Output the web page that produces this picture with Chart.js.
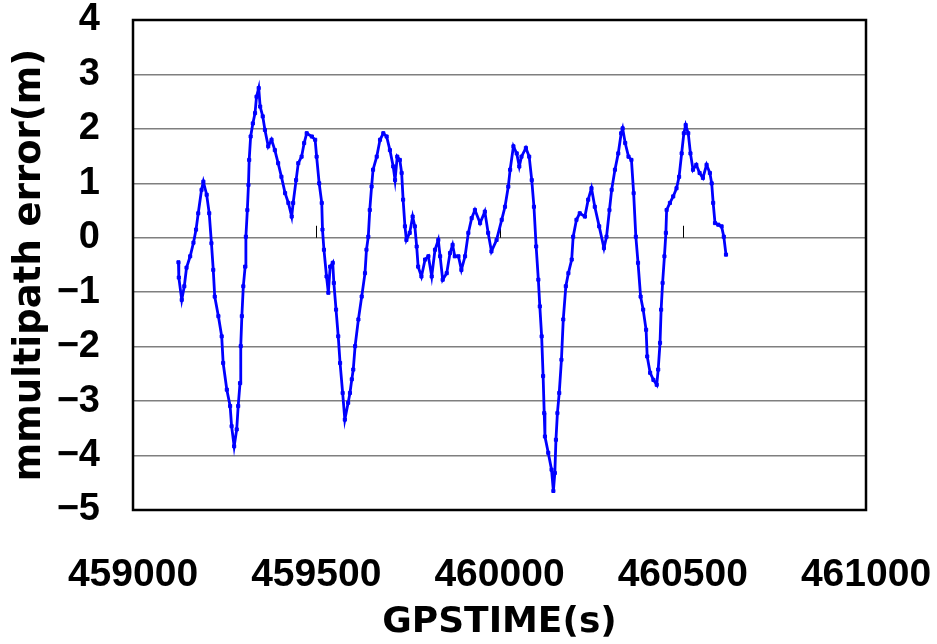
<!DOCTYPE html>
<html lang="en">
<head>
    <meta charset="UTF-8">
    <title>multipath error</title>
    <style>
        body { margin: 0; background: #fff; }
        #wrap { width: 937px; height: 644px; }
    </style>
    <script src="https://cdn.jsdelivr.net/npm/chart.js"></script>
</head>
<body>
<div id="wrap"><canvas id="grafico" width="937" height="644"></canvas></div>
<script>
// GPS time (s) and multipath error (m)
const gpsTime = [
    459124, 459125, 459133, 459140, 459146, 459156, 459165, 459172, 459178, 459187,
    459192, 459201, 459208, 459214, 459219, 459223, 459233, 459242, 459246, 459256,
    459265, 459269, 459276, 459283, 459287, 459292, 459294, 459297, 459301, 459306,
    459308, 459312, 459315, 459317, 459321, 459327, 459333, 459337, 459343, 459347,
    459354, 459360, 459369, 459378, 459387, 459396, 459405, 459415, 459424, 459433,
    459437, 459445, 459451, 459460, 459467, 459474, 459488, 459497, 459501, 459508,
    459515, 459517, 459521, 459528, 459533, 459538, 459545, 459548, 459554, 459560,
    459565, 459572, 459578, 459587, 459592, 459597, 459601, 459606, 459615, 459624,
    459633, 459637, 459642, 459646, 459651, 459655, 459665, 459674, 459683, 459692,
    459701, 459710, 459715, 459721, 459728, 459733, 459737, 459742, 459746, 459755,
    459763, 459769, 459774, 459778, 459787, 459797, 459806, 459815, 459824, 459833,
    459838, 459845, 459856, 459865, 459872, 459878, 459888, 459896, 459906, 459915,
    459924, 459933, 459947, 459960, 459969, 459978, 459992, 460006, 460015, 460024,
    460029, 460038, 460047, 460054, 460060, 460072, 460081, 460088, 460094, 460100,
    460106, 460110, 460115, 460119, 460122, 460124, 460133, 460142, 460147, 460151,
    460154, 460158, 460163, 460169, 460174, 460181, 460188, 460197, 460201, 460210,
    460219, 460233, 460242, 460251, 460260, 460272, 460285, 460292, 460300, 460306,
    460315, 460324, 460332, 460336, 460343, 460352, 460360, 460366, 460372, 460378,
    460385, 460392, 460400, 460403, 460411, 460420, 460429, 460433, 460438, 460441,
    460445, 460450, 460454, 460456, 460465, 460474, 460483, 460490, 460497, 460503,
    460508, 460515, 460521, 460528, 460537, 460546, 460555, 460565, 460574, 460579,
    460583, 460588, 460597, 460606, 460612, 460618
];
const mpError = [
    -0.45, -0.73, -1.14, -0.89, -0.55, -0.34, -0.09, 0.15, 0.45, 0.88,
    1.03, 0.79, 0.45, -0.10, -0.59, -1.08, -1.44, -1.81, -2.30, -2.79,
    -3.09, -3.46, -3.83, -3.52, -3.09, -2.67, -1.99, -1.44, -0.89, -0.53,
    0.02, 0.51, 0.97, 1.43, 1.86, 2.10, 2.29, 2.59, 2.75, 2.41,
    2.23, 1.98, 1.68, 1.80, 1.61, 1.37, 1.12, 0.82, 0.64, 0.39,
    0.64, 1.06, 1.37, 1.49, 1.74, 1.92, 1.86, 1.80, 1.49, 1.00,
    0.64, 0.15, -0.22, -0.71, -1.01, -0.53, -0.46, -0.83, -1.32, -1.81,
    -2.30, -2.85, -3.34, -3.03, -2.85, -2.60, -2.42, -1.99, -1.50, -1.08,
    -0.65, -0.22, 0.02, 0.51, 0.94, 1.25, 1.49, 1.80, 1.92, 1.86,
    1.61, 1.31, 1.06, 1.49, 1.43, 1.19, 0.70, 0.21, -0.04, 0.09,
    0.39, 0.21, -0.16, -0.53, -0.71, -0.40, -0.34, -0.71, -0.22, -0.04,
    -0.34, -0.77, -0.65, -0.28, -0.13, -0.34, -0.34, -0.59, -0.34, 0.09,
    0.36, 0.51, 0.27, 0.48, 0.09, -0.25, -0.04, 0.33, 0.57, 0.94,
    1.25, 1.68, 1.55, 1.31, 1.49, 1.65, 1.49, 1.06, 0.57, -0.16,
    -0.77, -1.26, -1.81, -2.54, -3.22, -3.65, -3.95, -4.26, -4.65, -4.32,
    -3.71, -3.22, -2.85, -2.24, -1.50, -0.89, -0.65, -0.40, 0.02, 0.33,
    0.45, 0.39, 0.70, 0.91, 0.57, 0.21, -0.19, 0.02, 0.51, 0.88,
    1.25, 1.55, 1.92, 2.01, 1.74, 1.49, 1.43, 0.82, 0.02, -0.46,
    -1.08, -1.32, -1.69, -2.18, -2.48, -2.61, -2.70, -2.42, -1.93, -1.32,
    -0.83, -0.34, 0.09, 0.51, 0.64, 0.76, 0.91, 1.12, 1.55, 1.92,
    2.07, 1.92, 1.55, 1.25, 1.34, 1.19, 1.10, 1.34, 1.19, 1.00,
    0.64, 0.27, 0.24, 0.21, 0.02, -0.31
];
// axis ticks
const xTicks = [459000, 459500, 460000, 460500, 461000];
const yTicks = [-5, -4, -3, -2, -1, 0, 1, 2, 3, 4];

const puntos = gpsTime.map((t, i) => ({ x: t, y: mpError[i] }));

// caja negra alrededor del area + marcas pequeñas sobre y=0
const marcoPlugin = {
    id: 'marco',
    beforeDatasetsDraw(chart) {
        const { ctx, scales } = chart;
        ctx.save();
        ctx.strokeStyle = '#000';
        ctx.lineWidth = 1;
        const y0 = scales.y.getPixelForValue(0);
        xTicks.forEach(v => {
            const px = Math.round(scales.x.getPixelForValue(v)) + 0.5;
            ctx.beginPath();
            ctx.moveTo(px, y0);
            ctx.lineTo(px, y0 - 12);
            ctx.stroke();
        });
        ctx.restore();
    },
    afterDraw(chart) {
        const { ctx, chartArea: a } = chart;
        ctx.save();
        ctx.strokeStyle = '#000';
        ctx.lineWidth = 2.5;
        ctx.strokeRect(a.left, a.top, a.right - a.left, a.bottom - a.top);
        ctx.restore();
    }
};

const ctx = document.getElementById('grafico').getContext('2d');
new Chart(ctx, {
    type: 'line',
    data: {
        datasets: [{
            data: puntos,
            borderColor: '#0000ff',
            backgroundColor: '#0000ff',
            borderWidth: 2.8,
            pointStyle: 'rect',
            pointRadius: 2.2,
            pointBorderWidth: 1,
            pointBorderColor: '#0000ff',
            pointBackgroundColor: '#0000ff',
            tension: 0
        }]
    },
    options: {
        responsive: false,
        animation: false,
        layout: { padding: { top: 20, right: 71, left: 0, bottom: 0 } },
        plugins: {
            legend: { display: false },
            tooltip: { enabled: false }
        },
        scales: {
            x: {
                type: 'linear',
                min: 459000,
                max: 461000,
                afterBuildTicks: s => { s.ticks = xTicks.map(v => ({ value: v })); },
                ticks: {
                    color: '#000',
                    padding: 42,
                    maxRotation: 0,
                    font: { family: 'Liberation Sans', size: 39, weight: 'bold' },
                    callback: v => String(v)
                },
                grid: { display: false, drawTicks: false },
                border: { display: false },
                title: {
                    display: true,
                    text: 'GPSTIME(s)',
                    color: '#000',
                    padding: { top: 0, bottom: 0 },
                    font: { family: 'DejaVu Sans', size: 36, weight: 'bold' }
                },
                afterFit: s => { s.height = 134; s.paddingLeft = 0; s.paddingRight = 0; }
            },
            y: {
                min: -5,
                max: 4,
                afterBuildTicks: s => { s.ticks = yTicks.map(v => ({ value: v })); },
                ticks: {
                    color: '#000',
                    padding: 33,
                    font: { family: 'Liberation Sans', size: 38, weight: 'bold' },
                    callback: v => String(v).replace('-', '\u2212')
                },
                grid: { color: '#7f7f7f', lineWidth: 1.5, drawTicks: false },
                border: { display: false },
                title: {
                    display: true,
                    text: 'mmultipath error(m)',
                    color: '#000',
                    padding: { top: 8, bottom: 0 },
                    font: { family: 'DejaVu Sans', size: 37, weight: 'bold' }
                },
                afterFit: s => { s.width = 133; s.paddingTop = 0; s.paddingBottom = 0; }
            }
        }
    },
    plugins: [marcoPlugin]
});
</script>
</body>
</html>
